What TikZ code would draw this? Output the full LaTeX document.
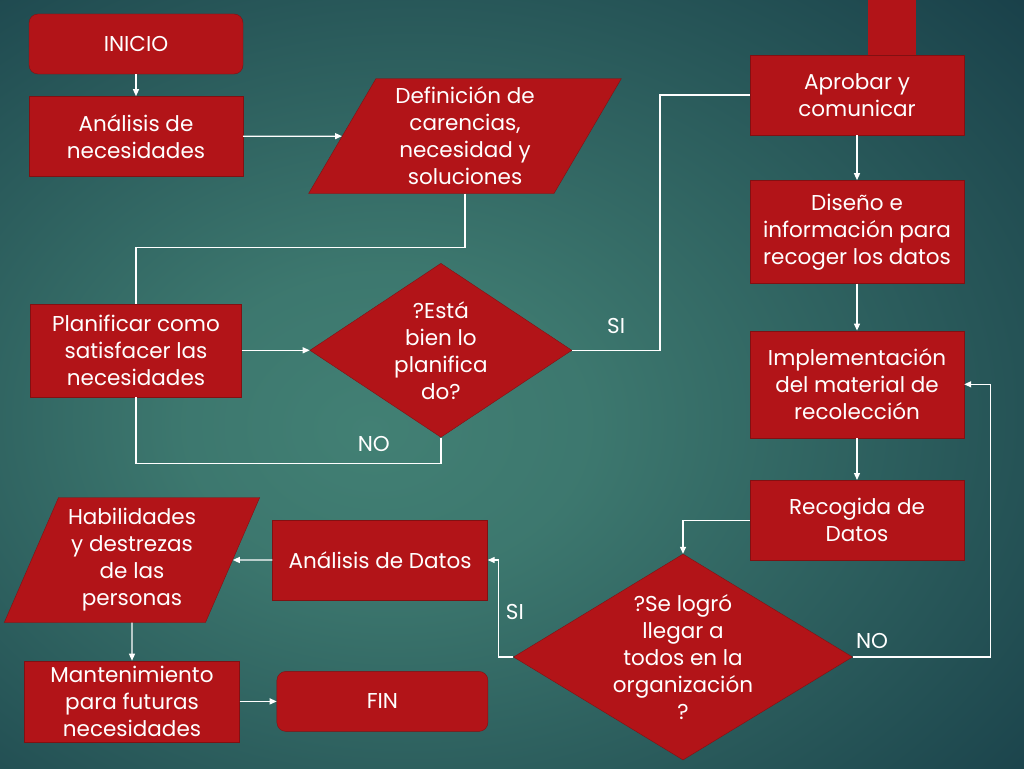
\documentclass[tikz,border=0pt]{standalone}
\usepackage{fontspec}
\setmainfont{Poppins}
\usepackage{tikz}
\usetikzlibrary{positioning, arrows.meta, shapes.geometric, calc}

\definecolor{bgin}{RGB}{66,128,116}
\definecolor{bgout}{RGB}{12,44,60}
\definecolor{boxred}{RGB}{178,20,24}
\definecolor{boxline}{RGB}{130,16,18}
\pgfdeclareradialshading{slidebg}{\pgfpoint{-7bp}{-3bp}}{%
  color(0bp)=(bgin); color(10bp)=(bgin!90!bgout); color(30bp)=(bgin!45!bgout);
  color(50bp)=(bgout); color(80bp)=(bgout)}

\begin{document}
\begin{tikzpicture}[
  x=1pt, y=-1pt,
  font=\fontsize{21.5}{27}\selectfont,
  box/.style={draw=boxline, fill=boxred, text=white, align=center,
    minimum width=214pt, minimum height=80pt, inner sep=2pt},
  start/.style={box, rounded corners=9pt, minimum height=60pt},
  decision/.style={box, diamond, inner sep=0pt},
  datain/.style={box, trapezium, trapezium stretches=true},
  arrow/.style={-{Triangle[length=7pt, width=6pt]}, white, line width=1.3pt},
  line/.style={white, line width=1.3pt},
  tag/.style={text=white, inner sep=1pt},
]
  % slide background
  \shade[shading=slidebg] (0,0) rectangle (1024,768);
  \fill[boxred] (868,0) rectangle (916,55);

  % left column
  \node[start] at (136,44) (inicio) {INICIO};
  \node[box, below=22pt of inicio] (analisis) {Análisis de\\necesidades};
  \node[datain, trapezium left angle=62, trapezium right angle=118,
        minimum width=314pt, minimum height=115pt] at (465,136) (definicion)
    {Definición de\\carencias,\\necesidad y\\soluciones};
  \node[box, minimum width=211pt, minimum height=93pt, below=127pt of analisis]
    (planificar) {Planificar como\\satisfacer las\\necesidades};
  \node[decision, minimum width=262pt, minimum height=174pt, aspect=1.5,
        inner sep=-4pt, right=68pt of planificar] (bienplan)
    {?Está\\bien lo\\planifica\\do?};

  % right column
  \node[box] at (857,95) (aprobar) {Aprobar y\\comunicar};
  \node[box, minimum height=103pt, below=45pt of aprobar] (diseno)
    {Diseño e\\información para\\recoger los datos};
  \node[box, minimum height=107pt, below=47pt of diseno] (implem)
    {Implementación\\del material de\\recolección};
  \node[box, below=42pt of implem] (recogida) {Recogida de\\Datos};
  \node[decision, minimum width=339pt, minimum height=206pt, aspect=1.65,
        inner sep=-14pt] at (683,657) (logro)
    {?Se logró\\llegar a\\todos en la\\organización\\?};

  % bottom left
  \node[box, minimum width=215pt] at (380,560) (datos) {Análisis de Datos};
  \node[datain, trapezium left angle=65.5, trapezium right angle=114.5,
        minimum width=256pt, minimum height=125pt] at (132,560) (habil)
    {Habilidades\\y destrezas\\de las\\personas};
  \node[box, minimum width=215pt, minimum height=81pt, below=38pt of habil]
    (manten) {Mantenimiento\\para futuras\\necesidades};
  \node[start, minimum width=211pt, right=37pt of manten] (fin) {FIN};

  % connectors
  \draw[arrow] (inicio) -- (analisis);
  \draw[arrow] (analisis) -- (definicion);
  \draw[line] (definicion.south) -- ++(0,54) -| (planificar.north);
  \draw[arrow] (planificar) -- (bienplan);
  \draw[line] (bienplan.south) -- ++(0,26)
    -| node[tag, pos=0.11, above=10pt] {NO} (planificar.south);
  \draw[line] (bienplan.east) -- node[tag, above=15pt] {SI} ++(88,0)
    |- (aprobar.west);
  \draw[arrow] (aprobar) -- (diseno);
  \draw[arrow] (diseno) -- (implem);
  \draw[arrow] (implem) -- (recogida);
  \draw[arrow] (recogida.west) -| (logro.north);
  \draw[arrow] (logro.west) -- ++(-15,0)
    |- node[tag, pos=0.23, right=6pt] {SI} (datos.east);
  \draw[arrow] (logro.east) -- ++(138,0)
    node[tag, pos=0.14, above=7pt] {NO} |- (implem.east);
  \draw[arrow] (datos) -- (habil);
  \draw[arrow] (habil) -- (manten);
  \draw[arrow] (manten) -- (fin);
\end{tikzpicture}
\end{document}
